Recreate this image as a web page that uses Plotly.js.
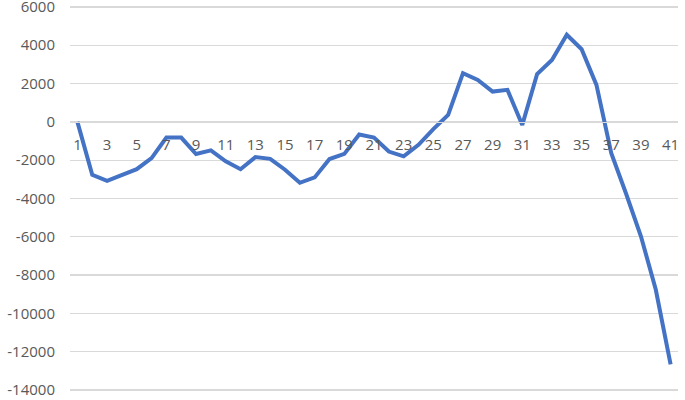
<!DOCTYPE html>
<html>
<head>
<meta charset="utf-8">
<script src="https://cdn.plot.ly/plotly-3.0.1.min.js"></script>
<style>
  body { margin: 0; background: #fff; }
  #plotArea { width: 685px; height: 400px; }
</style>
</head>
<body>
<div id="plotArea"></div>
<script>
// categories along the bottom, one per point
var periods = [1, 2, 3, 4, 5, 6, 7, 8, 9, 10,
    11, 12, 13, 14, 15, 16, 17, 18, 19, 20,
    21, 22, 23, 24, 25, 26, 27, 28, 29, 30,
    31, 32, 33, 34, 35, 36, 37, 38, 39, 40, 41];

// values
var values = [0, -2760, -3080, -2800, -2470, -1890, -820, -820, -1680, -1490,
    -2060, -2470, -1840, -1930, -2500, -3180, -2900, -1940, -1670, -660,
    -820, -1550, -1800, -1200, -380, 360, 2540, 2190, 1580, 1670,
    -160, 2500, 3230, 4550, 3790, 1930, -1630, -3750, -5970, -8750, -12660];

// only odd categories get a label
var xTicks = [1, 3, 5, 7, 9, 11, 13, 15, 17, 19, 21, 23, 25, 27, 29, 31, 33, 35, 37, 39, 41];
var yTicks = [6000, 4000, 2000, 0, -2000, -4000, -6000, -8000, -10000, -12000, -14000];

var trace = {
    x: periods,
    y: values,
    type: "scatter",
    mode: "lines",
    line: {color: "#4472C4", width: 4},
    hoverinfo: "x+y"
};

// y range padded a little so the 6000 and -14000 grid lines are drawn
var yMin = -14100, yMax = 6100;

var layout = {
    width: 685,
    height: 400,
    margin: {l: 70, r: 7, t: 5, b: 8},
    paper_bgcolor: "#ffffff",
    plot_bgcolor: "#ffffff",
    showlegend: false,
    font: {family: "Open Sans, sans-serif", size: 15, color: "#595959"},
    xaxis: {
        range: [0.5, 41.5],
        tickmode: "array",
        tickvals: xTicks,
        ticktext: xTicks.map(String),
        showgrid: false,
        zeroline: false,
        showline: true,
        linecolor: "#d9d9d9",
        linewidth: 1.3,
        ticks: "",
        anchor: "free",
        position: (0 - yMin) / (yMax - yMin),
        ticklabelstandoff: 9
    },
    yaxis: {
        range: [yMin, yMax],
        tickmode: "array",
        tickvals: yTicks,
        ticktext: yTicks.map(String),
        showgrid: true,
        gridcolor: "#d9d9d9",
        gridwidth: 1.3,
        zeroline: false,
        showline: false,
        ticks: "",
        ticklabelstandoff: 14,
        ticklabeloverflow: "allow"
    }
};

Plotly.newPlot("plotArea", [trace], layout, {displayModeBar: false, staticPlot: true});
</script>
</body>
</html>
